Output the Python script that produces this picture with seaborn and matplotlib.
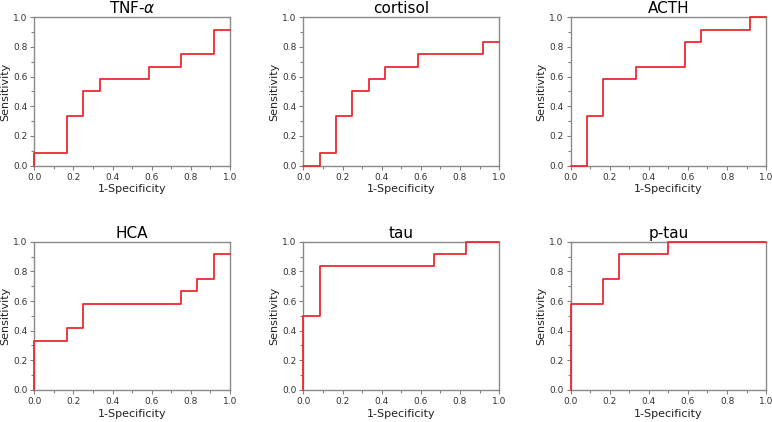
import numpy as np
import pandas as pd
import seaborn as sns
import matplotlib.pyplot as plt

# ROC step curves (multiples of 1/12)
titles = ["TNF-$\\alpha$", "cortisol", "ACTH", "HCA", "tau", "p-tau"]

tnf_x = [0, 0, 2/12, 3/12, 4/12, 7/12, 9/12, 11/12, 1]
tnf_y = [0, 1/12, 4/12, 6/12, 7/12, 8/12, 9/12, 11/12, 11/12]

cort_x = [0, 1/12, 2/12, 3/12, 4/12, 5/12, 7/12, 11/12, 1]
cort_y = [0, 1/12, 4/12, 6/12, 7/12, 8/12, 9/12, 10/12, 10/12]

acth_x = [0, 1/12, 2/12, 4/12, 7/12, 8/12, 11/12, 1]
acth_y = [0, 4/12, 7/12, 8/12, 10/12, 11/12, 1, 1]

hca_x = [0, 0, 2/12, 3/12, 9/12, 10/12, 11/12, 1]
hca_y = [0, 4/12, 5/12, 7/12, 8/12, 9/12, 11/12, 11/12]

tau_x = [0, 0, 1/12, 8/12, 10/12, 1]
tau_y = [0, 6/12, 10/12, 11/12, 1, 1]

ptau_x = [0, 0, 2/12, 3/12, 6/12, 1]
ptau_y = [0, 7/12, 9/12, 11/12, 1, 1]

curves = [(tnf_x, tnf_y), (cort_x, cort_y), (acth_x, acth_y),
          (hca_x, hca_y), (tau_x, tau_y), (ptau_x, ptau_y)]

sns.set_style("white")
plt.rcParams["font.family"] = ["DejaVu Sans"]

fig = plt.figure(figsize=(7.72, 4.22), dpi=100)

lefts = [0.0445, 0.3930, 0.7390]
width = 0.2535
rows = [(0.6075, 0.3515), (0.0760, 0.3510)]

for i, (title, (xs, ys)) in enumerate(zip(titles, curves)):
    r, c = divmod(i, 3)
    bottom, height = rows[r]
    ax = fig.add_axes([lefts[c], bottom, width, height])
    df = pd.DataFrame({"fpr": xs, "tpr": ys})
    sns.lineplot(data=df, x="fpr", y="tpr", ax=ax, estimator=None, sort=False,
                 drawstyle="steps-post", color="#ec2a32", linewidth=1.3,
                 clip_on=False, zorder=3)
    ax.set_xlim(0, 1)
    ax.set_ylim(0, 1)
    ax.set_xticks(np.arange(0, 1.01, 0.2))
    ax.set_yticks(np.arange(0, 1.01, 0.2))
    ax.set_xticks(np.arange(0.1, 1.0, 0.2), minor=True)
    ax.set_yticks(np.arange(0.1, 1.0, 0.2), minor=True)
    ax.tick_params(which="major", length=3, width=0.8, color="#808080",
                   labelsize=6.5, pad=2, direction="out", labelcolor="#333333")
    ax.tick_params(which="minor", length=2, width=0.8, color="#808080",
                   direction="out")
    ax.tick_params(axis="both", which="both", bottom=True, left=True)
    for s in ax.spines.values():
        s.set_color("#8a8a8a")
        s.set_linewidth(1.0)
    ax.set_title(title, fontsize=11, pad=3, color="black")
    ax.set_xlabel("1-Specificity", fontsize=8, labelpad=2, color="#222222")
    ax.set_ylabel("Sensitivity", fontsize=8, labelpad=2, color="#222222")

fig.savefig("out.png", dpi=100)
